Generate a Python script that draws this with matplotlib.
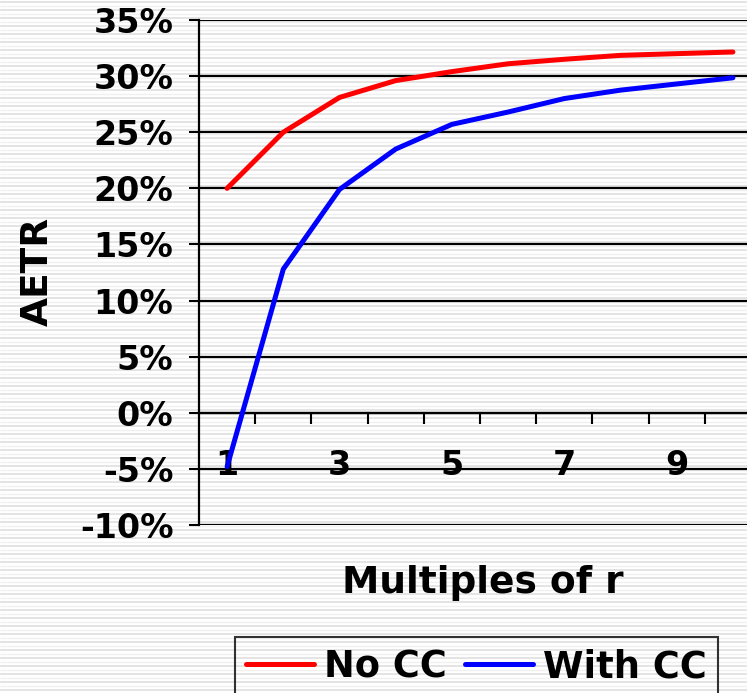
import numpy as np
import matplotlib
matplotlib.use("Agg")
import matplotlib.pyplot as plt
from matplotlib.ticker import FuncFormatter, FixedLocator

plt.rcParams['font.family'] = ['DejaVu Sans']
plt.rcParams['font.weight'] = 'bold'

# AETR by multiple of r
multiples = [1, 2, 3, 4, 5, 6, 7, 8, 9, 10]
no_cc = [20.0, 25.0, 28.1, 29.6, 30.4, 31.1, 31.5, 31.85, 32.0, 32.15]
with_cc = [-4.8, 12.8, 19.9, 23.5, 25.7, 26.8, 28.0, 28.75, 29.3, 29.85]
x_labels = [1, 3, 5, 7, 9]

W, H = 747, 693
fig = plt.figure(figsize=(W / 100, H / 100), dpi=100)
fig.patch.set_facecolor('white')

# striped paper background
bg = fig.add_axes([0, 0, 1, 1], zorder=-10)
bg.set_xlim(0, W)
bg.set_ylim(H, 0)
bg.axis('off')
dark = np.arange(2, H, 8)
light = np.arange(6, H, 8)
bg.hlines(dark, 0, W, color='#e2e2e2', lw=1.3)
bg.hlines(light, 0, W, color='#f0f0f0', lw=1.0)

ax = fig.add_axes([199 / W, 1 - 525 / H, 562 / W, 505 / H])
ax.set_facecolor('none')

ax.plot(multiples, no_cc, color='#ff0000', lw=3.6, solid_capstyle='round', label='No CC', zorder=3)
ax.plot(multiples, with_cc, color='#0000ff', lw=3.6, solid_capstyle='round', label='With CC', zorder=3)

ax.set_xlim(0.5, 10.5)
ax.set_ylim(-10, 35)
ax.set_yticks(np.arange(-10, 36, 5))
ax.yaxis.set_major_formatter(FuncFormatter(lambda v, p: f"{v:.0f}%"))
ax.tick_params(axis='y', direction='out', length=7.5, width=1.5, pad=11, labelsize=24)
ax.grid(axis='y', color='black', lw=1.6, zorder=1)
ax.set_axisbelow(True)

for s in ['top', 'right']:
    ax.spines[s].set_visible(False)
ax.spines['left'].set_linewidth(1.6)
ax.spines['bottom'].set_position(('data', 0))
ax.spines['bottom'].set_linewidth(1.6)

# category boundaries as ticks, labels on odd categories
ax.xaxis.set_major_locator(FixedLocator(np.arange(1.5, 10.5, 1)))
ax.xaxis.set_minor_locator(FixedLocator(x_labels))
ax.set_xticklabels([], minor=False)
ax.set_xticklabels([str(v) for v in x_labels], minor=True)
ax.tick_params(axis='x', which='major', direction='out', length=8, width=1.5)
ax.tick_params(axis='x', which='minor', length=0, pad=26, labelsize=24)

fig.text(38 / W, 1 - 271 / H, 'AETR', rotation=90, ha='center', va='center',
         fontsize=27, fontweight='bold')
fig.text(483 / W, 1 - 583 / H, 'Multiples of r', ha='center', va='center',
         fontsize=27, fontweight='bold')

leg = fig.legend(loc='upper left', bbox_to_anchor=(235 / W, 1 - 637 / H), ncol=2,
                 fontsize=26.5, frameon=True, fancybox=False, handlelength=1.85,
                 handletextpad=0.27, columnspacing=0.5, borderpad=0.3,
                 borderaxespad=0)
leg.get_frame().set_edgecolor('black')
leg.get_frame().set_linewidth(1.5)
leg.get_frame().set_facecolor('none')
for line in leg.get_lines():
    line.set_linewidth(3.6)
    line.set_solid_capstyle('round')

fig.savefig('out.png', dpi=100)
